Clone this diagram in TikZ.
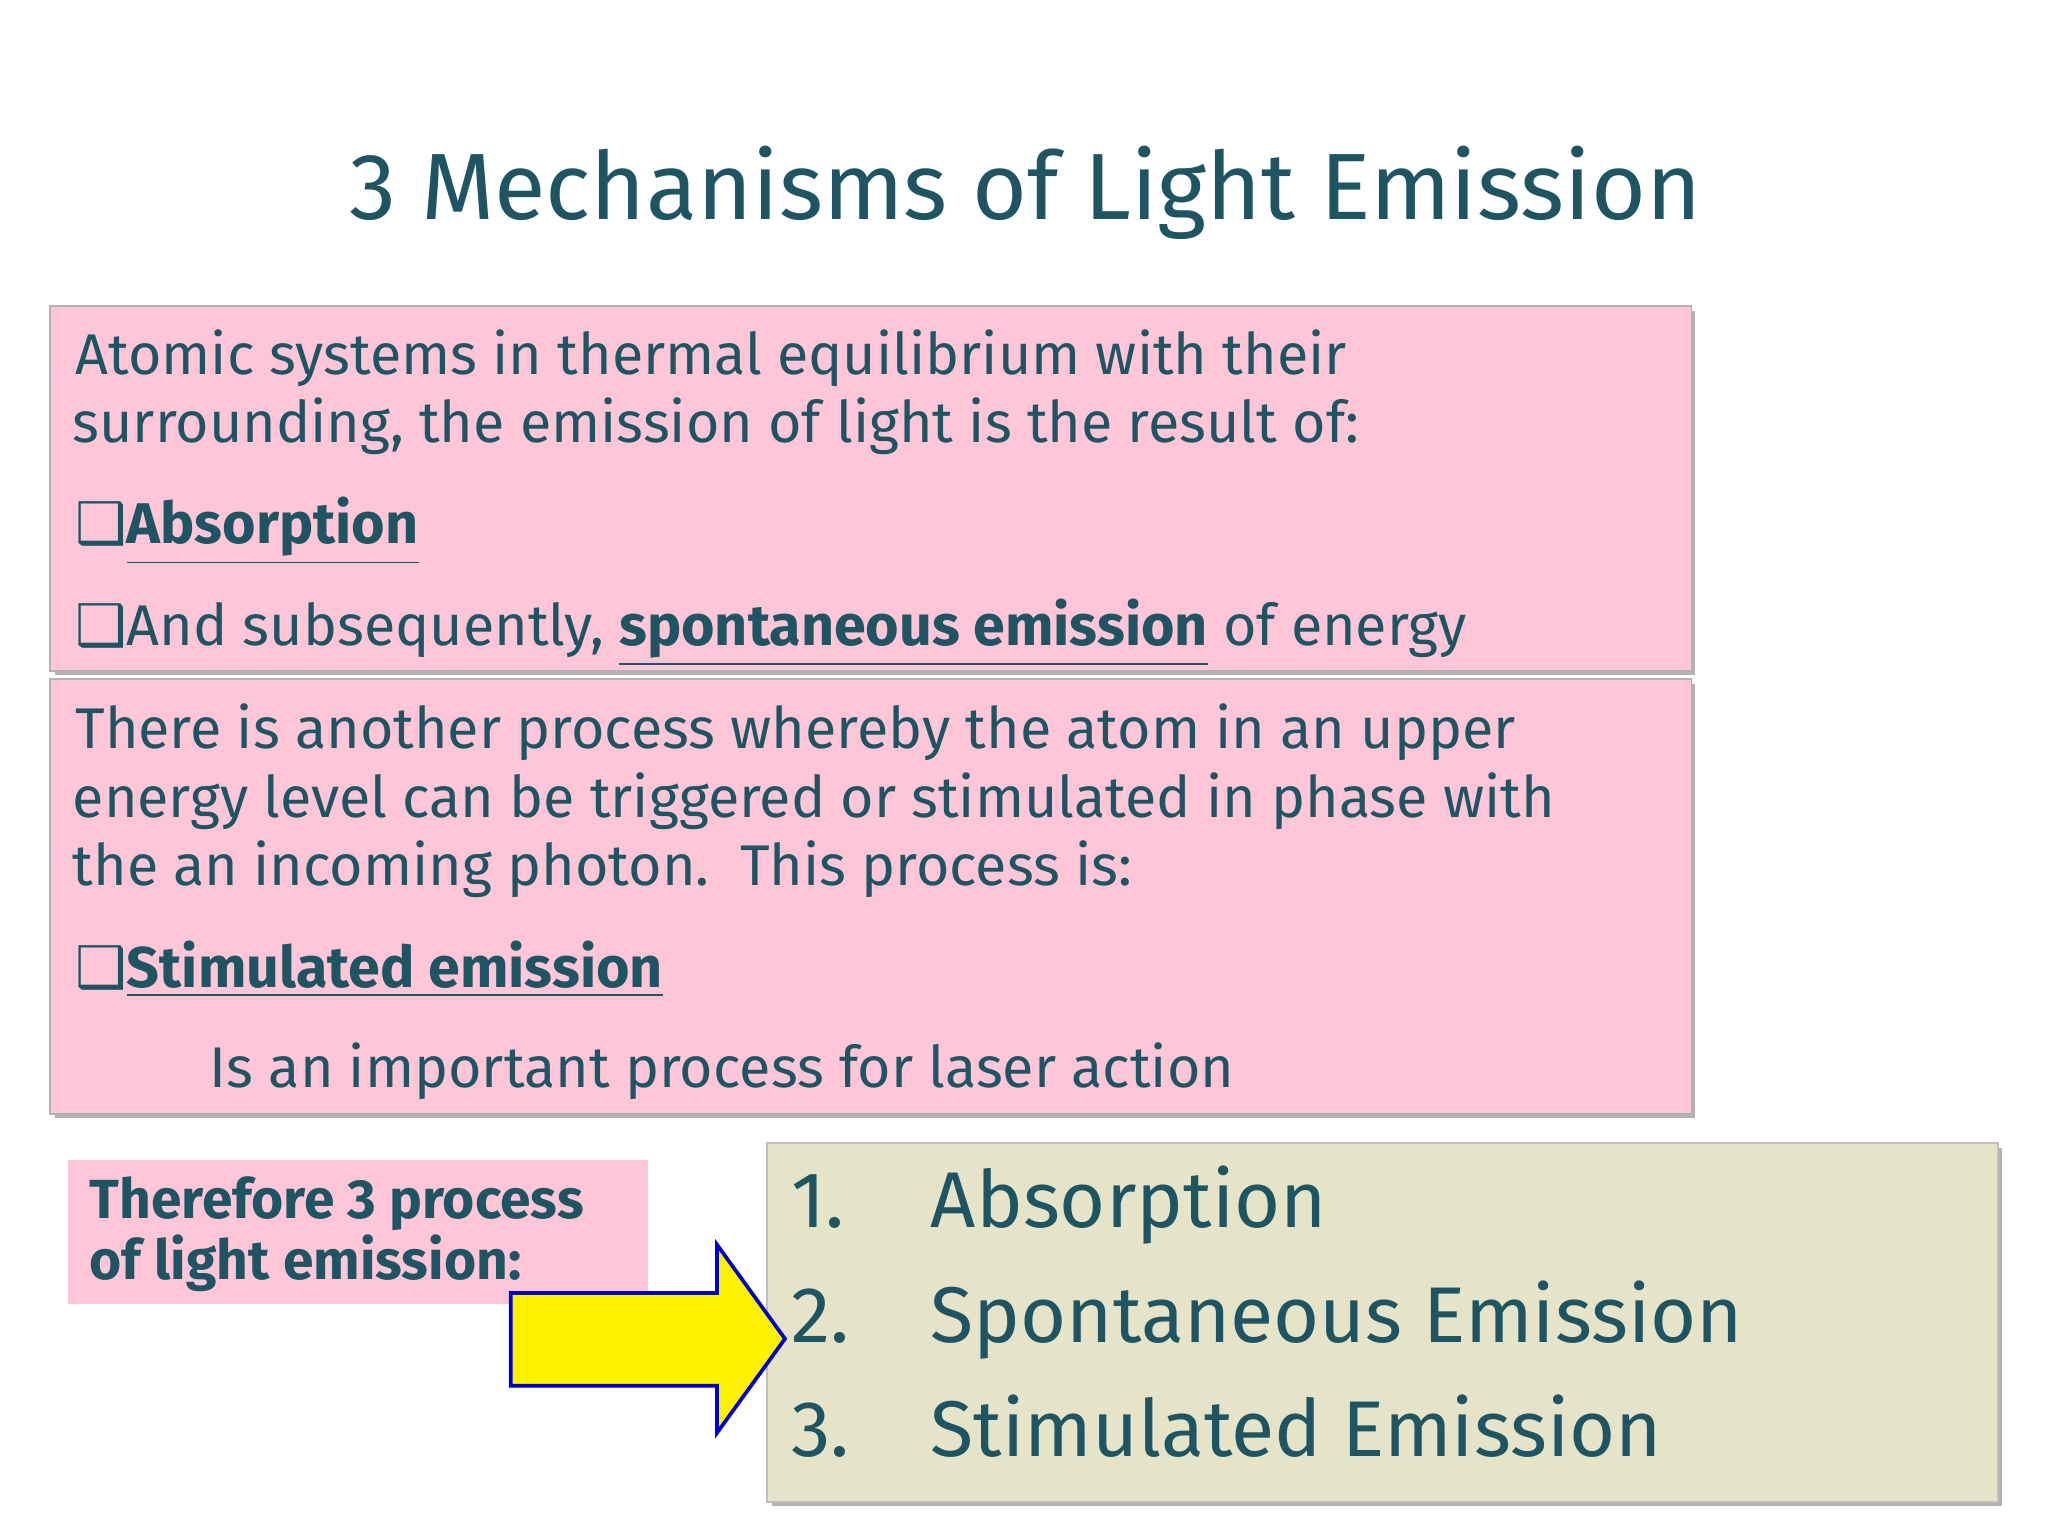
\documentclass[tikz,border=0pt]{standalone}
\usepackage{fontspec}
\setmainfont{Fira Sans}
\newfontfamily\symf{DejaVu Sans}
\definecolor{tx}{HTML}{1F5563}
\definecolor{pk}{HTML}{FFC6D8}
\definecolor{bg}{HTML}{E6E4C8}
\newcommand{\qbox}{{\symf\char"2751}}
\begin{document}
\begin{tikzpicture}[x=0.01cm,y=-0.01cm,
  body/.style={anchor=base west,inner sep=0,text=tx,font=\fontsize{12.5}{15}\selectfont},
  big/.style={anchor=base west,inner sep=0,text=tx,font=\fontsize{17.2}{21}\selectfont}]
\useasboundingbox (0,0) rectangle (1568,1176);
\node[anchor=center,text=tx,font=\fontsize{20.5}{24}\selectfont] (title) at (785,148) {3 Mechanisms of Light Emission};
% boxes
\fill[gray!60] (42,238) rectangle (1298,517);
\fill[pk] (38,234) rectangle (1295,514);
\draw[gray!60] (38,234) rectangle (1295,514);
\fill[gray!60] (42,524) rectangle (1298,856);
\fill[pk] (38,520) rectangle (1295,853);
\draw[gray!60] (38,520) rectangle (1295,853);
\fill[pk] (52,888) rectangle (496,998);
\fill[gray!60] (591,879) rectangle (1533,1153);
\fill[bg] (587,875) rectangle (1530,1150);
\draw[gray!50] (587,875) rectangle (1530,1150);
% box1 text
\node[body] (a1) at (57,287) {Atomic systems in thermal equilibrium with their};
\node[body] (a2) at (55,339) {surrounding, the emission of light is the result of:};
\node[body] (a3) at (57,416) {\qbox\textbf{\underline{Absorption\vphantom{y}}}};
\node[body] (a4) at (57,494) {\qbox And subsequently, \textbf{\underline{spontaneous emission}} of energy};
% box2 text
\node[body] (b1) at (57,573) {There is another process whereby the atom in an upper};
\node[body] (b2) at (55,626) {energy level can be triggered or stimulated in phase with};
\node[body] (b3) at (55,678) {the an incoming photon.\ \ This process is:};
\node[body] (b4) at (57,756) {\qbox\textbf{\underline{Stimulated emission}}};
\node[body] (b5) at (160,833) {Is an important process for laser action};
% small box
\node[body,font=\fontsize{12}{14}\bfseries] (c1) at (68,933) {Therefore 3 process};
\node[body,font=\fontsize{12}{14}\bfseries] (c2) at (68,980) {of light emission:};
% arrow
\draw[blue!80!black,fill=yellow,line width=0.8pt] (391,990) -- (549,990) -- (549,953) -- (601,1025) -- (549,1097) -- (549,1061) -- (391,1061) -- cycle;
% list
\node[big] (n1) at (605,940) {1.};
\node[big] (l1) at (712,940) {Absorption};
\node[big] (n2) at (605,1028) {2.};
\node[big] (l2) at (712,1028) {Spontaneous Emission};
\node[big] (n3) at (605,1115) {3.};
\node[big] (l3) at (712,1115) {Stimulated Emission};
\end{tikzpicture}
\end{document}
